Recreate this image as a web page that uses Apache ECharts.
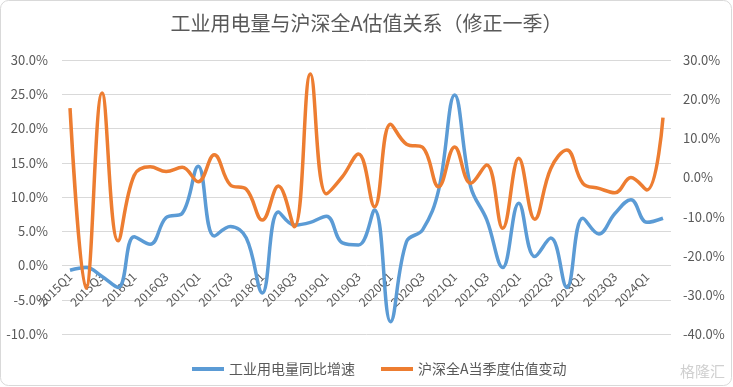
<!DOCTYPE html>
<html>
<head>
<meta charset="utf-8">
<script src="https://cdn.jsdelivr.net/npm/echarts@6/dist/echarts.min.js"></script>
<style>
html,body{margin:0;padding:0;background:#fff;}
#c{width:733px;height:387px;}
</style>
</head>
<body>
<div id="c"></div>
<script>
const categories = ['2015Q1','2015Q2','2015Q3','2015Q4','2016Q1','2016Q2','2016Q3','2016Q4',
'2017Q1','2017Q2','2017Q3','2017Q4','2018Q1','2018Q2','2018Q3','2018Q4',
'2019Q1','2019Q2','2019Q3','2019Q4','2020Q1','2020Q2','2020Q3','2020Q4',
'2021Q1','2021Q2','2021Q3','2021Q4','2022Q1','2022Q2','2022Q3','2022Q4',
'2023Q1','2023Q2','2023Q3','2023Q4','2024Q1','2024Q2'];
// 工业用电量同比增速 (%), left axis
const powerGrowth = [-0.7,-0.3,-1.6,-3.2,4.2,3.1,7.0,7.6,
14.5,4.3,5.7,4.0,-4.0,7.8,5.9,6.3,
7.2,3.3,3.0,8.1,-8.2,3.5,5.2,11.0,
24.9,11.5,6.7,-0.3,9.1,1.3,4.0,-3.2,
6.9,4.6,7.6,9.6,6.3,6.9];
// 沪深全A当季度估值变动 (%), right axis
const valuationChange = [17.7,-28.3,21.6,-16.2,0.5,2.7,1.5,2.6,
-1.1,5.8,-1.9,-3.0,-10.9,-2.2,-12.6,26.4,
-4.2,0.2,6.0,-7.5,13.6,8.5,7.7,-2.4,
7.8,-1.5,3.2,-13.0,4.9,-10.7,2.3,7.0,
-1.5,-2.8,-3.9,0.0,-3.2,15.3];
const seriesNames = ['工业用电量同比增速','沪深全A当季度估值变动'];
const titleText = '工业用电量与沪深全A估值关系（修正一季）';

const txt = '#595959';
const font = "'Noto Sans CJK SC', 'Noto Sans', sans-serif";
const pct = v => v.toFixed(1) + '%';

const chart = echarts.init(document.getElementById('c'), null, {renderer:'canvas'});
chart.setOption({
  animation:false,
  backgroundColor:'#fff',
  textStyle:{fontFamily:font},
  title:{text:titleText,left:'center',top:8,
    textStyle:{color:txt,fontSize:20,fontWeight:'normal',fontFamily:font}},
  graphic:[
    {type:'rect',shape:{x:0.5,y:0.5,width:731,height:385,r:8},
     style:{fill:'none',stroke:'#d9d9d9',lineWidth:1},silent:true},
    {type:'text',right:8,bottom:8,style:{text:'格隆汇',fill:'#d0d0d0',font:"15px 'Noto Sans CJK SC'"},silent:true}
  ],
  legend:{left:187,top:357,itemWidth:32,itemHeight:4,itemGap:26,icon:'rect',
    textStyle:{color:txt,fontSize:14,fontFamily:font},data:seriesNames},
  grid:{left:62,right:62,top:60,bottom:53,containLabel:false},
  xAxis:{type:'category',data:categories,boundaryGap:true,position:'bottom',offset:-68.5,
    axisLine:{show:false,onZero:false},
    axisTick:{show:false},
    axisLabel:{interval:1,rotate:45,margin:9,color:txt,fontSize:12,fontFamily:font}},
  yAxis:[
    {type:'value',min:-10,max:30,interval:5,
     axisLine:{show:false},axisTick:{show:false},
     splitLine:{lineStyle:{color:'#d9d9d9',width:1}},
     axisLabel:{formatter:pct,color:txt,fontSize:13,margin:14,fontFamily:font}},
    {type:'value',min:-40,max:30,interval:10,position:'right',
     axisLine:{show:false},axisTick:{show:false},splitLine:{show:false},
     axisLabel:{formatter:pct,color:txt,fontSize:13,margin:12,fontFamily:font}}
  ],
  series:[
    {name:seriesNames[0],type:'line',yAxisIndex:0,data:powerGrowth,smooth:0.4,
     showSymbol:false,symbol:'none',lineStyle:{color:'#5B9BD5',width:3.5},itemStyle:{color:'#5B9BD5'}},
    {name:seriesNames[1],type:'line',yAxisIndex:1,data:valuationChange,smooth:0.4,
     showSymbol:false,symbol:'none',lineStyle:{color:'#ED7D31',width:3.5},itemStyle:{color:'#ED7D31'}}
  ]
});
</script>
</body>
</html>
